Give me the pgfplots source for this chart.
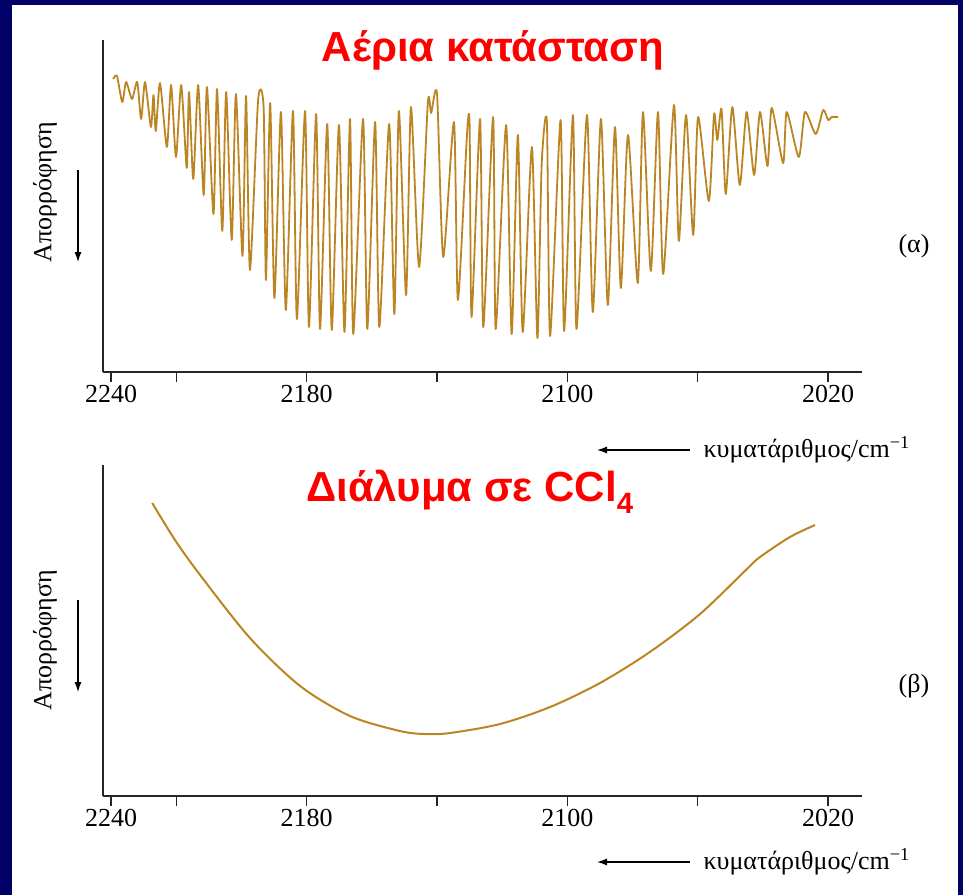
\documentclass[border=0pt]{standalone}
\usepackage{fontspec}
\setmainfont{Liberation Serif}
\newfontfamily\headfont{Liberation Sans}
\usepackage{pgfplots}
\pgfplotsset{compat=1.18}
\usetikzlibrary{arrows.meta}

\definecolor{framecol}{RGB}{0,0,102}
\definecolor{spec}{RGB}{188,133,35}
\definecolor{headred}{RGB}{255,0,0}

\newcommand{\lblfont}{\fontsize{26}{30}\selectfont}
\newcommand{\headsize}{\headfont\bfseries\fontsize{42}{48}\selectfont}

\pgfplotsset{
  spectrum/.style={
    scale only axis, width=759pt,
    x dir=reverse, xmin=2009.6, xmax=2242.5,
    axis x line=bottom, axis y line=left,
    axis line style={-, line width=1.6pt, black!85},
    xtick={2240,2220,2180,2140,2100,2060,2020},
    xticklabels={2240,,2180,,2100,,2020},
    ytick=\empty,
    tick align=outside, major tick length=10pt,
    every tick/.style={black!85, line width=1.4pt},
    tick label style={font=\lblfont},
    /pgf/number format/assume math mode=true,
    clip=false,
  }
}

\begin{document}
\begin{tikzpicture}[x=1pt,y=1pt]
% slide frame
\fill[framecol] (0,0) rectangle (963,-895);
\fill[white] (12,-5) rectangle (958,-895);

% (a) gas phase: CO fundamental, P and R branches
\begin{axis}[spectrum, at={(103pt,-372pt)}, anchor=south west,
  height=332pt, ymin=0, ymax=332]
\addplot[spec, line width=1.8pt, line join=round, smooth, tension=0.4] coordinates {
(2239.4,293) (2238.2,296) (2236.6,270) (2235.4,290) (2233.6,273)
(2232.0,290) (2230.8,253) (2229.6,290) (2227.8,245) (2227.0,277)
(2226.3,241) (2225.0,289) (2222.9,225) (2221.6,287) (2220.1,215)
(2218.5,287) (2216.8,204) (2216.1,280) (2214.8,193) (2213.3,287)
(2211.6,177) (2210.6,285) (2208.6,158) (2207.5,283) (2205.9,141)
(2204.7,280) (2203.0,132) (2201.7,278) (2199.7,116) (2198.6,276)
(2197.4,102) (2194.9,272) (2193.2,264) (2192.5,92) (2191.2,269)
(2189.9,74) (2187.9,260) (2186.4,62) (2184.2,261) (2183.0,53)
(2180.5,261) (2179.3,45) (2177.1,258) (2175.9,43) (2173.7,248)
(2172.3,42) (2170.1,247) (2168.4,40) (2166.7,253) (2165.7,38)
(2162.7,253) (2161.4,43) (2159.0,250) (2157.7,45) (2154.7,248)
(2153.1,58) (2151.7,261) (2149.5,77) (2148.0,265) (2145.5,105)
(2142.8,270) (2141.8,259) (2140.0,278) (2138.1,115) (2134.8,250)
(2133.6,72) (2130.8,238) (2130.0,247) (2129.4,55) (2126.8,253)
(2125.8,45) (2122.8,255) (2122.0,43) (2118.8,247) (2117.1,38)
(2115.2,237) (2113.7,40) (2110.9,225) (2109.2,34) (2107.9,207)
(2106.3,251) (2105.3,36) (2102.1,252) (2101.0,41) (2098.3,257)
(2097.2,43) (2094.0,257) (2092.2,60) (2089.7,253) (2087.6,67)
(2085.4,245) (2083.6,84) (2081.4,237) (2078.4,89) (2076.8,260)
(2074.4,101) (2072.2,260) (2070.6,98) (2067.3,267) (2065.8,131)
(2063.6,257) (2061.4,137) (2059.9,255) (2056.6,171) (2055.0,258)
(2054.0,232) (2052.7,263) (2051.4,178) (2049.4,265) (2047.1,187)
(2045.0,260) (2042.7,197) (2040.9,260) (2038.6,206) (2037.3,264)
(2033.8,209) (2032.7,260) (2029.0,215) (2027.1,260) (2023.8,238)
(2021.5,262) (2020.0,252) (2018.9,255) (2016.9,255)
};
\end{axis}

% (b) solution in CCl4: single broad band
\begin{axis}[spectrum, at={(103pt,-796pt)}, anchor=south west,
  height=331pt, ymin=0, ymax=331]
\addplot[spec, line width=2pt, smooth] coordinates {
(2227.4,293) (2220.4,256) (2212.7,221) (2197.4,158) (2182.0,110)
(2166.7,80) (2151.4,65) (2143.7,62) (2136.0,63) (2120.7,72)
(2105.3,89) (2090.0,113) (2074.7,144) (2059.3,182) (2044.6,228)
(2040.9,239) (2031.7,259) (2024.0,271)
};
\end{axis}

% titles
\node[font=\headsize, text=headred] at (493,-50) {Αέρια κατάσταση};
\node[font=\headsize, text=headred] at (470,-492) {Διάλυμα σε CCl\textsubscript{4}};

% axis descriptions, panel (a)
\node[rotate=90, font=\lblfont] at (45,-192) {Απορρόφηση};
\draw[line width=1.2pt, -{Latex[length=10pt,width=7pt]}] (78,-170) -- (78,-262);
\node[font=\lblfont] at (914,-246) {(α)};
\draw[line width=1.2pt, -{Latex[length=10pt,width=7pt]}] (690,-450) -- (597,-450);
\node[anchor=west, font=\lblfont] at (700,-450) {κυματάριθμος/cm\textsuperscript{−1}};

% axis descriptions, panel (b)
\node[rotate=90, font=\lblfont] at (45,-640) {Απορρόφηση};
\draw[line width=1.2pt, -{Latex[length=10pt,width=7pt]}] (78,-600) -- (78,-692);
\node[font=\lblfont] at (914,-686) {(β)};
\draw[line width=1.2pt, -{Latex[length=10pt,width=7pt]}] (690,-862) -- (597,-862);
\node[anchor=west, font=\lblfont] at (700,-862) {κυματάριθμος/cm\textsuperscript{−1}};
\end{tikzpicture}
\end{document}
